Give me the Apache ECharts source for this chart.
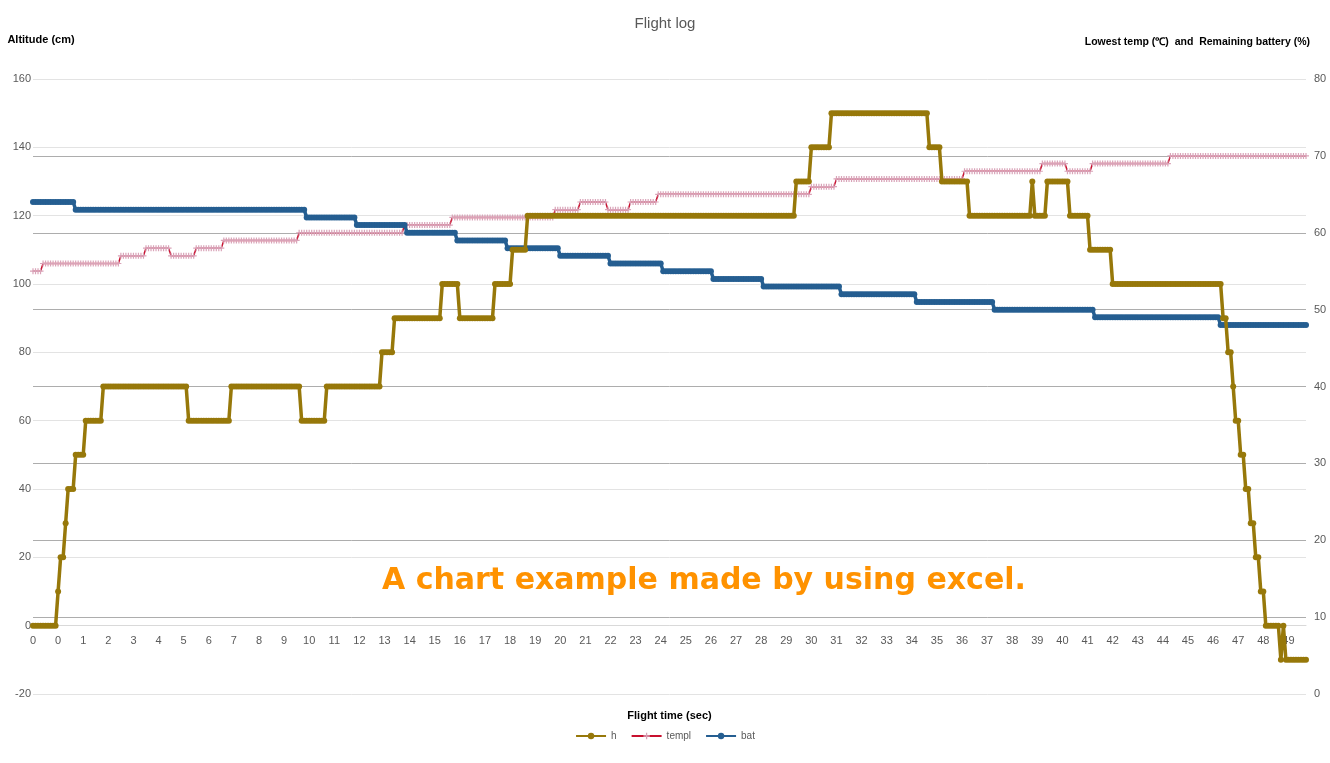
<!DOCTYPE html>
<html>
<head>
<meta charset="utf-8">
<title>Flight log</title>
<script src="https://cdn.jsdelivr.net/npm/echarts@6/dist/echarts.min.js"></script>
<style>
  html, body { margin: 0; padding: 0; background: #fff; }
  #chartDiv { width: 1330px; height: 763px; }
</style>
</head>
<body>
<div id="chartDiv"></div>
<script>
// 刻度标签（每10个采样点一个）
var tickLabels = ['0', '0', '1', '2', '3', '4', '5', '6', '7', '8', '9', '10', '11', '12', '13', '14', '15',
    '16', '17', '18', '19', '20', '21', '22', '23', '24', '25', '26', '27', '28', '29', '30', '31', '32',
    '33', '34', '35', '36', '37', '38', '39', '40', '41', '42', '43', '44', '45', '46', '47', '48', '49'];

// 高度 h：[数值, 持续采样点数]
var hRuns = [[0, 10], [10, 1], [20, 2], [30, 1], [40, 3], [50, 4], [60, 7], [70, 34], [60, 17], [70, 28],
    [60, 10], [70, 22], [80, 5], [90, 19], [100, 7], [90, 14], [100, 7], [110, 6], [120, 107], [130, 6],
    [140, 8], [150, 39], [140, 5], [130, 11], [120, 25], [130, 1], [120, 5], [130, 9], [120, 8], [110, 9],
    [100, 44], [90, 2], [80, 2], [70, 1], [60, 2], [50, 2], [40, 2], [30, 2], [20, 2], [10, 2], [0, 6],
    [-10, 1], [0, 1], [-10, 9]];

// 最低温度 templ
var templRuns = [[55, 4], [56, 31], [57, 10], [58, 10], [57, 10], [58, 11], [59, 30], [60, 42], [61, 19],
    [62, 41], [63, 10], [64, 11], [63, 9], [64, 11], [65, 61], [66, 10], [67, 51], [68, 31], [69, 10],
    [68, 10], [69, 31], [70, 55]];

// 剩余电量 bat
var batRuns = [[64, 17], [63, 92], [62, 20], [61, 20], [60, 20], [59, 20], [58, 21], [57, 20], [56, 21],
    [55, 20], [54, 20], [53, 31], [52, 30], [51, 31], [50, 40], [49, 50], [48, 35]];

// 展开成逐点数据
function expand(runs) {
    var out = [];
    runs.forEach(function (r) {
        for (var i = 0; i < r[1]; i++) out.push(r[0]);
    });
    return out;
}

var h = expand(hRuns);
var templ = expand(templRuns);
var bat = expand(batRuns);

var samples = h.map(function (v, i) { return String(i); });

var chart = echarts.init(document.getElementById('chartDiv'));

var labelColor = '#595959';
var plusPath = 'path://M3.2,0L4.8,0L4.8,3.2L8,3.2L8,4.8L4.8,4.8L4.8,8L3.2,8L3.2,4.8L0,4.8L0,3.2L3.2,3.2Z';

var option = {
    animation: false,
    backgroundColor: '#fff',
    title: {
        text: 'Flight log',
        left: 'center',
        top: 11,
        textStyle: { fontFamily: 'Liberation Sans', fontSize: 15, fontWeight: 'normal', color: labelColor }
    },
    legend: {
        bottom: 17,
        left: 'center',
        itemWidth: 30,
        itemHeight: 8,
        itemGap: 14,
        textStyle: { fontFamily: 'Liberation Sans', fontSize: 10, color: labelColor },
        data: ['h', 'templ', 'bat']
    },
    grid: { left: 33, right: 24, top: 79, bottom: 69, outerBoundsMode: 'none' },
    xAxis: {
        type: 'category',
        data: samples,
        boundaryGap: false,
        offset: -68.4,
        name: 'Flight time (sec)',
        nameLocation: 'middle',
        nameGap: 85,
        nameTextStyle: { fontFamily: 'Liberation Sans', fontSize: 11, fontWeight: 'bold', color: '#000' },
        axisLine: { onZero: false, lineStyle: { color: '#D9D9D9' } },
        axisTick: { show: false },
        axisLabel: {
            interval: function (idx) { return idx % 10 === 0; },
            formatter: function (val, idx) { return tickLabels[Math.round(idx / 10)]; },
            margin: 10,
            fontFamily: 'Liberation Sans',
            fontSize: 11,
            color: labelColor
        },
        splitLine: { show: false }
    },
    yAxis: [{
        type: 'value',
        min: -20,
        max: 160,
        interval: 20,
        name: 'Altitude (cm)',
        nameLocation: 'end',
        nameGap: 34,
        nameTextStyle: { fontFamily: 'Liberation Sans', fontSize: 11, fontWeight: 'bold', color: '#000', align: 'center', padding: [0, 0, 0, 16] },
        axisLine: { show: false },
        axisTick: { show: false },
        axisLabel: { fontFamily: 'Liberation Sans', fontSize: 11, color: labelColor, margin: 2 },
        splitLine: { lineStyle: { color: '#E3E3E3', width: 1 } }
    }, {
        type: 'value',
        min: 0,
        max: 80,
        interval: 10,
        position: 'right',
        name: 'Lowest temp (\u2103)  and  Remaining battery (%)',
        nameLocation: 'end',
        nameGap: 31,
        nameTextStyle: { fontFamily: 'Liberation Sans', fontSize: 10.5, fontWeight: 'bold', color: '#000', align: 'right', padding: [0, -4, 0, 0] },
        axisLine: { show: false },
        axisTick: { show: false },
        axisLabel: { fontFamily: 'Liberation Sans', fontSize: 11, color: labelColor, margin: 8 },
        splitLine: { showMinLine: false, showMaxLine: false, lineStyle: { color: '#ADADAD', width: 1 } }
    }],
    graphic: [{
        type: 'text',
        left: 382,
        top: 566,
        style: {
            text: 'A chart example made by using excel.',
            font: 'bold 30px "DejaVu Sans"',
            fill: '#FF9200'
        }
    }],
    series: [{
        name: 'templ',
        type: 'line',
        yAxisIndex: 1,
        data: templ,
        showAllSymbol: true,
        symbol: plusPath,
        symbolSize: 6,
        z: 3,
        itemStyle: { color: '#D9A3B8' },
        lineStyle: { color: '#C8102E', width: 1.5 }
    }, {
        name: 'bat',
        type: 'line',
        yAxisIndex: 1,
        data: bat,
        showAllSymbol: true,
        symbol: 'circle',
        symbolSize: 6,
        z: 4,
        itemStyle: { color: '#255E91' },
        lineStyle: { color: '#255E91', width: 3.5 }
    }, {
        name: 'h',
        type: 'line',
        yAxisIndex: 0,
        data: h,
        showAllSymbol: true,
        symbol: 'circle',
        symbolSize: 6,
        z: 5,
        itemStyle: { color: '#97780A' },
        lineStyle: { color: '#97780A', width: 3.5 }
    }]
};

chart.setOption(option);
</script>
</body>
</html>
